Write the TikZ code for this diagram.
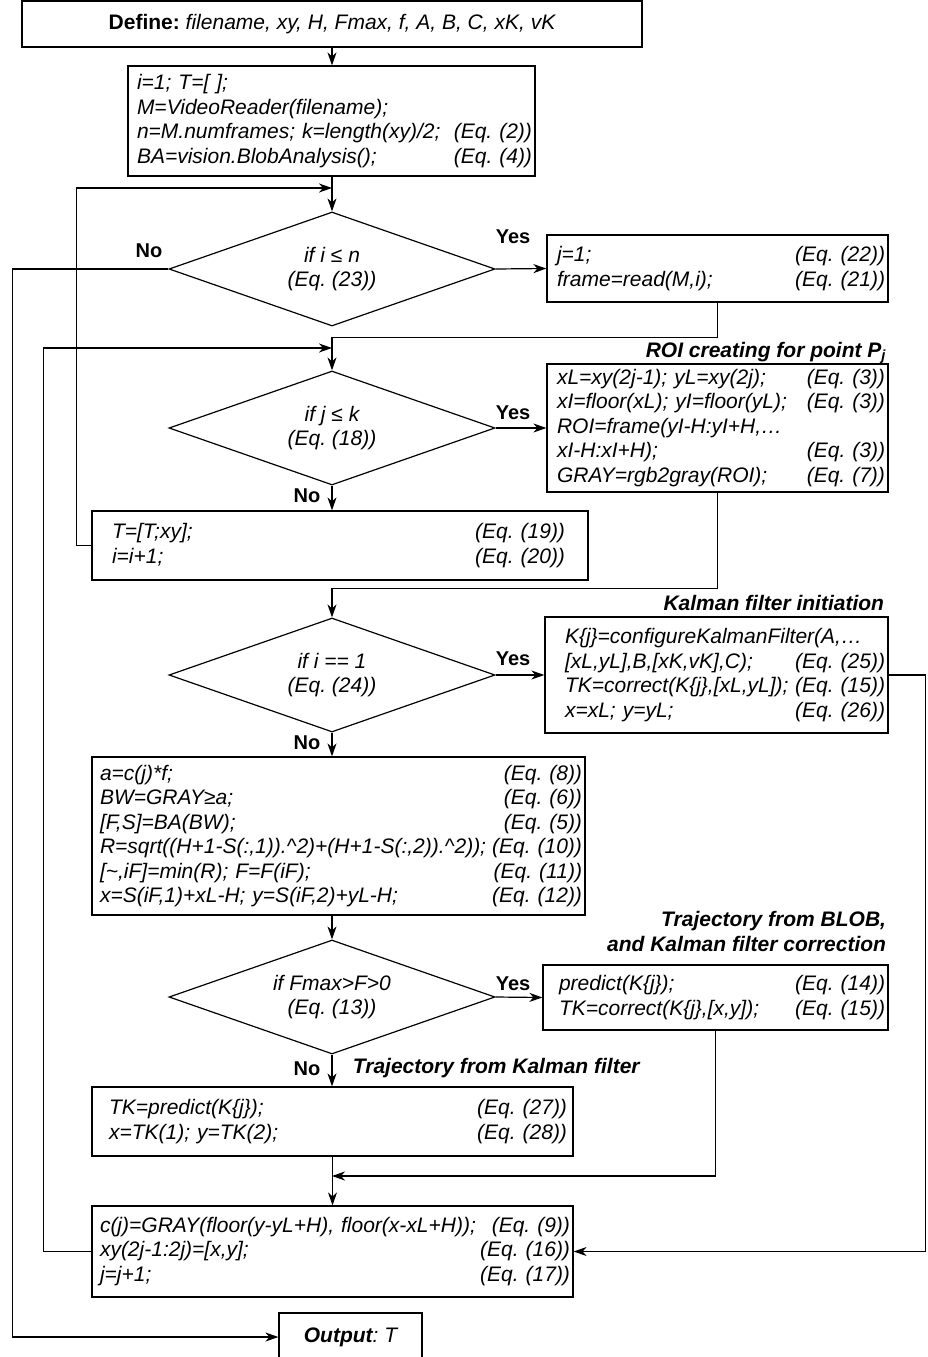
\documentclass[tikz,border=0pt]{standalone}
\usepackage{fontspec}
\setmainfont{Liberation Sans}
\usepackage{tikz}
\usetikzlibrary{shapes.geometric, arrows.meta}
\tikzset{>={Stealth[length=13pt, width=9pt, inset=4pt]}}
\frenchspacing
\newcommand{\eqrow}[2]{\noindent\hspace*{\boxlp}#1\hspace{5pt}\hskip 0pt plus 1filll #2\hspace*{\boxrp}\par}
\tikzset{
    plainbox/.style={draw, inner sep=0pt},
    codebox/.style 2 args={draw, inner sep=0pt, align=left, execute at begin node={\def\boxlp{#1}\def\boxrp{#2}}},
    decision/.style={draw, diamond, shape aspect=2.86, inner sep=0pt, align=center, minimum width=326pt, minimum height=114pt},
    answer/.style={font=\fontsize{20}{24}\selectfont\bfseries},
    stage/.style={font=\fontsize{21}{25}\selectfont\bfseries\itshape, align=right, anchor=east}
}

\begin{document}
\begin{tikzpicture}[x=1pt, y=-1pt, line width=1.2pt, font=\fontsize{21}{24.5}\selectfont\itshape]
    \useasboundingbox (0,0) rectangle (927,1357);
    \node [plainbox, minimum width=620pt, minimum height=46pt] (define) at (332,24) {{\upshape\bfseries Define:} filename, xy, H, Fmax, f, A, B, C, xK, vK};
    \node [codebox={9pt}{3pt}, text width=407pt, minimum height=110pt] (init) at (331.5,121) {%
        \eqrow{i=1; T=[ ];}{}%
        \eqrow{M=VideoReader(filename);}{}%
        \eqrow{n=M.numframes; k=length(xy)/2;}{(Eq. (2))}%
        \eqrow{BA=vision.BlobAnalysis();}{(Eq. (4))}};
    \node [decision] (d1) at (332,269) {if i ≤ n\\(Eq. (23))};
    \node [codebox={10pt}{3pt}, text width=341pt, minimum height=67pt] (frame) at (717.5,268.5) {%
        \eqrow{j=1;}{(Eq. (22))}%
        \eqrow{frame=read(M,i);}{(Eq. (21))}};
    \node [decision] (d2) at (332,428) {if j ≤ k\\(Eq. (18))};
    \node [stage] (roititle) at (890,353) {ROI creating for point P\textsubscript{j}};
    \node [codebox={10pt}{3pt}, text width=341pt, minimum height=128pt] (roi) at (717.5,428) {%
        \eqrow{xL=xy(2j-1); yL=xy(2j);}{(Eq. (3))}%
        \eqrow{xI=floor(xL); yI=floor(yL);}{(Eq. (3))}%
        \eqrow{ROI=frame(yI-H:yI+H,…}{}%
        \eqrow{xI-H:xI+H);}{(Eq. (3))}%
        \eqrow{GRAY=rgb2gray(ROI);}{(Eq. (7))}};
    \node [codebox={20pt}{23pt}, text width=496pt, minimum height=69pt] (update) at (340,545.5) {%
        \eqrow{T=[T;xy];}{(Eq. (19))}%
        \eqrow{i=i+1;}{(Eq. (20))}};
    \node [decision] (d3) at (332,675) {if i == 1\\(Eq. (24))};
    \node [stage] (kalmantitle) at (888,603) {Kalman filter initiation};
    \node [codebox={20pt}{3pt}, text width=343pt, minimum height=116pt] (kalman) at (716.5,675) {%
        \eqrow{K\{j\}=configureKalmanFilter(A,…}{}%
        \eqrow{[xL,yL],B,[xK,vK],C);}{(Eq. (25))}%
        \eqrow{TK=correct(K\{j\},[xL,yL]);}{(Eq. (15))}%
        \eqrow{x=xL; y=yL;}{(Eq. (26))}};
    \node [codebox={8pt}{3pt}, text width=493pt, minimum height=158pt] (blob) at (338.5,836) {%
        \eqrow{a=c(j)*f;}{(Eq. (8))}%
        \eqrow{BW=GRAY≥a;}{(Eq. (6))}%
        \eqrow{[F,S]=BA(BW);}{(Eq. (5))}%
        \eqrow{R=sqrt((H+1-S(:,1)).\textasciicircum2)+(H+1-S(:,2)).\textasciicircum2));}{(Eq. (10))}%
        \eqrow{[\textasciitilde,iF]=min(R); F=F(iF);}{(Eq. (11))}%
        \eqrow{x=S(iF,1)+xL-H; y=S(iF,2)+yL-H;}{(Eq. (12))}};
    \node [decision] (d4) at (332,997) {if Fmax>F>0\\(Eq. (13))};
    \node [stage] (correctiontitle) at (890,931) {Trajectory from BLOB,\\and Kalman filter correction};
    \node [codebox={16pt}{3pt}, text width=345pt, minimum height=65pt] (correction) at (715.5,997.5) {%
        \eqrow{predict(K\{j\});}{(Eq. (14))}%
        \eqrow{TK=correct(K\{j\},[x,y]);}{(Eq. (15))}};
    \node [stage, anchor=west] (predictiontitle) at (349,1068) {Trajectory from Kalman filter};
    \node [codebox={17pt}{6pt}, text width=481pt, minimum height=69pt] (prediction) at (332.5,1121.5) {%
        \eqrow{TK=predict(K\{j\});}{(Eq. (27))}%
        \eqrow{x=TK(1); y=TK(2);}{(Eq. (28))}};
    \node [codebox={8pt}{3pt}, text width=481pt, minimum height=91pt] (updatej) at (332.5,1251.5) {%
        \eqrow{c(j)=GRAY(floor(y-yL+H), floor(x-xL+H));}{(Eq. (9))}%
        \eqrow{xy(2j-1:2j)=[x,y];}{(Eq. (16))}%
        \eqrow{j=j+1;}{(Eq. (17))}};
    \node [plainbox, minimum width=143pt, minimum height=48pt] (output) at (350.5,1337) {{\bfseries Output}: T};

    \node [answer] (yes1) at (513,237) {Yes};
    \node [answer] (no1) at (149,251) {No};
    \node [answer] (yes2) at (513,413) {Yes};
    \node [answer] (no2) at (307,496) {No};
    \node [answer] (yes3) at (513,659) {Yes};
    \node [answer] (no3) at (307,743) {No};
    \node [answer] (yes4) at (513,984) {Yes};
    \node [answer] (no4) at (307,1069) {No};

    \coordinate (in1) at (332,188);
    \coordinate (in2) at (332,348);
    \coordinate (in3) at (332,1176);

    \draw [->] (define.south) -- (define.south |- init.north);
    \draw [->] (d1.north |- init.south) -- (d1.north);
    \draw [->] (update.west) -- ++(-15,0) |- (in1);
    \draw [->] (d1.west) -- ++(-156,0) |- (output.west);
    \draw [->] (d1.east) -- (frame.west);
    \draw [->] (frame.south) -- ++(0,35) -| (d2.north);
    \draw [->] (updatej.west) -- ++(-48,0) |- (in2);
    \draw [->] (d2.east) -- (roi.west);
    \draw [->] (d2.south) -- (d2.south |- update.north);
    \draw [->] (roi.south) -- ++(0,96) -| (d3.north);
    \draw [->] (d3.east) -- (kalman.west);
    \draw [->] (d3.south) -- (d3.south |- blob.north);
    \draw [->] (d4.north |- blob.south) -- (d4.north);
    \draw [->] (d4.east) -- (correction.west);
    \draw [->] (d4.south) -- (d4.south |- prediction.north);
    \draw [->] (kalman.east) -- ++(37,0) |- (updatej.east);
    \draw [->] (correction.south) |- (in3);
    \draw [->] (prediction.south) -- (updatej.north);
\end{tikzpicture}
\end{document}
